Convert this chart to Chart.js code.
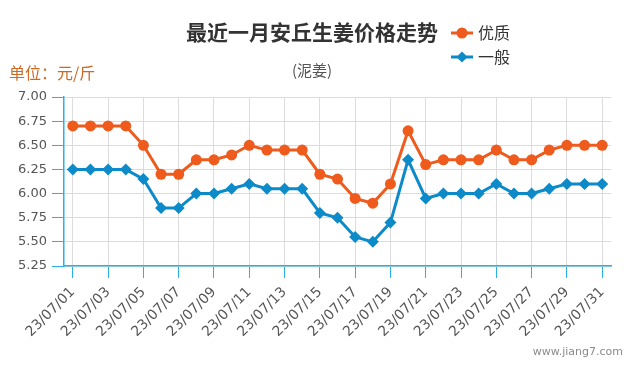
<!DOCTYPE html>
<html>
<head>
<meta charset="utf-8">
<script src="https://cdn.jsdelivr.net/npm/chart.js@4/dist/chart.umd.min.js"></script>
<style>
html,body{margin:0;padding:0;background:#fff;}
#wrap{width:635px;height:375px;position:relative;}
</style>
</head>
<body>
<div id="wrap"><canvas id="c" width="635" height="375"></canvas></div>
<script>
const categories = ["23/07/01","23/07/02","23/07/03","23/07/04","23/07/05","23/07/06","23/07/07","23/07/08","23/07/09","23/07/10","23/07/11","23/07/12","23/07/13","23/07/14","23/07/15","23/07/16","23/07/17","23/07/18","23/07/19","23/07/20","23/07/21","23/07/22","23/07/23","23/07/24","23/07/25","23/07/26","23/07/27","23/07/28","23/07/29","23/07/30","23/07/31"];
const premium = [6.70,6.70,6.70,6.70,6.50,6.20,6.20,6.35,6.35,6.40,6.50,6.45,6.45,6.45,6.20,6.15,5.95,5.90,6.10,6.65,6.30,6.35,6.35,6.35,6.45,6.35,6.35,6.45,6.50,6.50,6.50];
const ordinary = [6.25,6.25,6.25,6.25,6.15,5.85,5.85,6.00,6.00,6.05,6.10,6.05,6.05,6.05,5.80,5.75,5.55,5.50,5.70,6.35,5.95,6.00,6.00,6.00,6.10,6.00,6.00,6.05,6.10,6.10,6.10];
const seriesNames = ["优质","一般"];
const yTicks = [5.25,5.50,5.75,6.00,6.25,6.50,6.75,7.00];
const titleText = "最近一月安丘生姜价格走势";
const subtitleText = "(泥姜)";
const unitText = "单位：元/斤";
const watermark = "www.jiang7.com";

const ORANGE = '#ef5a1d';
const BLUE = '#0d8ac8';
const AXIS = '#29b2e6';
const GRID = '#dcdcdc';
const CJK = '"Noto Sans CJK SC", "Noto Sans", sans-serif';

const textPlugin = {
  id: 'texts',
  afterDraw(chart) {
    const ctx = chart.ctx;
    ctx.save();
    ctx.textBaseline = 'middle';
    // title
    ctx.fillStyle = '#333';
    ctx.font = 'bold 21px ' + CJK;
    ctx.textAlign = 'center';
    ctx.fillText(titleText, 312, 32);
    // subtitle
    ctx.fillStyle = '#555';
    ctx.font = '15px ' + CJK;
    ctx.fillText(subtitleText, 312, 70);
    // unit
    ctx.textAlign = 'left';
    ctx.fillStyle = '#cc6a24';
    ctx.font = '16px ' + CJK;
    ctx.fillText(unitText, 9, 73);
    // legend
    const ys = [33, 57];
    chart.data.datasets.forEach((ds, i) => {
      const y = ys[i];
      ctx.strokeStyle = ds.borderColor;
      ctx.lineWidth = 3;
      ctx.beginPath();
      ctx.moveTo(451, y);
      ctx.lineTo(473, y);
      ctx.stroke();
      ctx.fillStyle = ds.borderColor;
      ctx.beginPath();
      if (ds.pointStyle === 'circle') { ctx.arc(462, y, 5.5, 0, Math.PI*2); }
      else { ctx.moveTo(462, y-5.5); ctx.lineTo(467.5, y); ctx.lineTo(462, y+5.5); ctx.lineTo(456.5, y); ctx.closePath(); }
      ctx.fill();
      ctx.fillStyle = '#333';
      ctx.font = '16px ' + CJK;
      ctx.fillText(ds.label, 478, y);
    });
    // watermark
    ctx.fillStyle = '#8a8a8a';
    ctx.font = '11px "DejaVu Sans", sans-serif';
    ctx.textAlign = 'right';
    ctx.fillText(watermark, 623, 352);
    ctx.restore();
  }
};

new Chart(document.getElementById('c'), {
  type: 'line',
  data: {
    labels: categories,
    datasets: [
      {label: seriesNames[0], data: premium, borderColor: ORANGE, backgroundColor: ORANGE, borderWidth: 3,
       pointStyle: 'circle', pointRadius: 5.5, pointBorderWidth: 0, pointBackgroundColor: ORANGE, tension: 0},
      {label: seriesNames[1], data: ordinary, borderColor: BLUE, backgroundColor: BLUE, borderWidth: 3,
       pointStyle: 'rectRot', pointRadius: 6, pointBorderWidth: 0, pointBackgroundColor: BLUE, tension: 0}
    ]
  },
  options: {
    responsive: false,
    animation: false,
    events: [],
    layout: {padding: {top: 97, right: 24, left: 0, bottom: 0}},
    plugins: {legend: {display: false}, tooltip: {enabled: false}, title: {display: false}},
    scales: {
      x: {
        offset: true,
        afterFit(scale) { scale.height = 109; },
        grid: {
          color: ctx => (ctx.index % 2 === 0 ? GRID : 'rgba(0,0,0,0)'),
          tickColor: ctx => (ctx.index % 2 === 0 ? AXIS : 'rgba(0,0,0,0)'),
          tickLength: 12, lineWidth: 1, offset: false
        },
        border: {color: AXIS, width: 1.5},
        ticks: {
          autoSkip: false, maxRotation: 45, minRotation: 45,
          color: '#555', font: {family: '"DejaVu Sans", sans-serif', size: 14}, padding: 6,
          callback(v, i) { return i % 2 === 0 ? categories[i] : ''; }
        }
      },
      y: {
        min: yTicks[0], max: yTicks[yTicks.length-1],
        afterFit(scale) { scale.width = 64; },
        afterBuildTicks(scale) { scale.ticks = yTicks.map(v => ({value: v})); },
        grid: {color: GRID, tickColor: AXIS, tickLength: 12, lineWidth: 1},
        border: {color: AXIS, width: 1.5},
        ticks: {
          color: '#555', font: {family: '"DejaVu Sans", sans-serif', size: 13}, padding: 5,
          callback(v) { return Number(v).toFixed(2); }
        }
      }
    }
  },
  plugins: [textPlugin]
});
</script>
</body>
</html>
